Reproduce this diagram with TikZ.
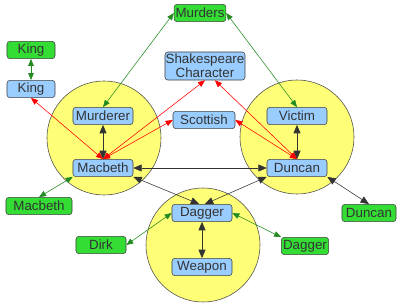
\documentclass[tikz,border=0pt]{standalone}
\usepackage{fontspec}
\setmainfont{Liberation Sans}
\usepackage{xcolor}
\usepackage{tikz}
\usetikzlibrary{arrows.meta,positioning}

\definecolor{conceptblue}{HTML}{99CCFF}
\definecolor{instgreen}{HTML}{33DD33}
\definecolor{framey}{HTML}{FFFF77}
\definecolor{linkgreen}{HTML}{228B22}

\tikzset{
  frame/.style={circle,draw=black!70,fill=framey,minimum size=2.85cm,inner sep=0pt},
  concept/.style={rectangle,rounded corners=2pt,draw=black!75,fill=conceptblue,
    text=black!80,minimum width=1.5cm,minimum height=0.43cm,inner sep=1pt,
    font=\fontsize{9.5}{10.5}\selectfont,align=center},
  inst/.style={concept,fill=instgreen},
  glink/.style={{Triangle[length=5pt,width=4pt]}-{Triangle[length=5pt,width=4pt]},linkgreen},
  rlink/.style={{Triangle[length=5pt,width=4pt]}-{Triangle[length=5pt,width=4pt]},red},
  blink/.style={{Triangle[length=6pt,width=5pt]}-{Triangle[length=6pt,width=5pt]},black!80},
  bthick/.style={blink,semithick}
}

\begin{document}
\begin{tikzpicture}[x=0.025cm,y=-0.025cm]
  \useasboundingbox (0,0) rectangle (400,308);
  % frames
  \node[frame] (fmacbeth) at (104,138) {};
  \node[frame] (fduncan) at (297,137) {};
  \node[frame] (fdagger) at (203,245) {};
  % concepts inside the frames
  \node[concept] (murderer) at (103,116) {Murderer};
  \node[concept] (macbeth) at (103,168) {Macbeth};
  \node[concept] (victim) at (297,116) {Victim};
  \node[concept] (duncan) at (297,168) {Duncan};
  \node[concept] (dagger) at (202,213) {Dagger};
  \node[concept] (weapon) at (202,267) {Weapon};
  % free concepts
  \node[concept,minimum width=2cm,minimum height=0.7cm,inner sep=0pt,
    font=\fontsize{9.5}{10}\selectfont] (shakes) at (205,66) {Shakespeare\\Character};
  \node[concept,minimum width=1.55cm] (scottish) at (204,120) {Scottish};
  \node[concept,minimum width=1.2cm] (king) at (31,89) {King};
  % instances
  \node[inst,minimum width=1.2cm] (kingi) at (31,50) {King};
  \node[inst,minimum width=1.2cm] (murders) at (200,13) {Murders};
  \node[inst,minimum width=1.65cm] (macbethi) at (39,206) {Macbeth};
  \node[inst,minimum width=1.25cm] (dirk) at (101,245) {Dirk};
  \node[inst,minimum width=1.18cm] (daggeri) at (305,246) {Dagger};
  \node[inst,minimum width=1.35cm] (duncani) at (369,213) {Duncan};
  % green links
  \draw[glink,semithick] (kingi) -- (king);
  \draw[glink] (murders.west) -- (murderer.north);
  \draw[glink] (murders.east) -- (victim.north);
  \draw[glink] (macbethi.north) -- (macbeth.south west);
  \draw[glink] (dirk.east) -- (dagger.west);
  \draw[glink] (daggeri.north west) -- (dagger.east);
  % red links
  \draw[rlink] (macbeth.north) -- (king.south);
  \draw[rlink] (macbeth.north) -- (shakes.south);
  \draw[rlink] (macbeth.north) -- (scottish.west);
  \draw[rlink] (duncan.north) -- ([xshift=7pt]shakes.south);
  \draw[rlink] (duncan.north) -- (scottish.east);
  % black links
  \draw[bthick] (murderer) -- (macbeth);
  \draw[bthick] (victim) -- (duncan);
  \draw[bthick] (dagger) -- (weapon);
  \draw[blink] (macbeth.east) -- (duncan.west);
  \draw[blink] (macbeth.south east) -- ([xshift=-2pt]dagger.north);
  \draw[blink] (duncan.south west) -- ([xshift=2pt]dagger.north);
  \draw[blink] (duncan.south east) -- (duncani.north);
\end{tikzpicture}
\end{document}
